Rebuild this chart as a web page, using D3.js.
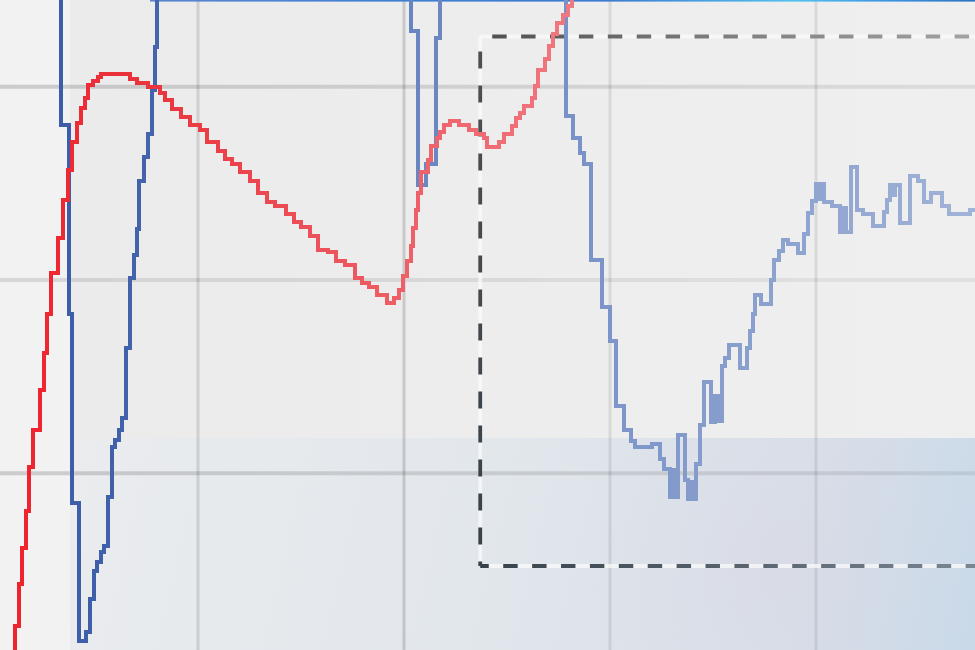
<!DOCTYPE html>
<html><head><meta charset="utf-8">
<script src="https://cdn.jsdelivr.net/npm/d3@7"></script>
<style>html,body{margin:0;padding:0;overflow:hidden;background:#ececec}svg{display:block}</style>
</head><body><svg id="c" width="975" height="650"></svg>
<script>
// ---- data (chart units) ----
const redX = [8.7,11.2,13.1,14.6,16.5,18.0,19.9,23.3,25.2,26.7,28.6,32.0,34.5,36.9,38.8,41.3,43.2,45.1,46.6,49.0,51.5,52.9,67.0,70.4,75.7,81.6,84.0,87.4,91.7,96.1,101.0,104.4,109.7,113.1,116.5,120.4,125.2,129.1,133.5,137.4,142.7,146.6,150.0,154.4,158.3,163.1,167.0,171.3,176.2,179.6,183.0,186.9,191.7,195.1,197.6,199.5,201.5,203.4,204.4,205.8,206.8,208.2,211.6,213.1,216.0,217.5,219.4,222.3,226.7,231.5,234.9,238.8,240.3,246.1,248.5,252.4,254.4,256.3,258.2,262.1,263.6,265.0,268.4,270.4,272.3,274.3,277.2,279.6,281.6];
const redY = [-0.8,21.0,42.7,61.3,80.5,103.2,122.4,143.1,162.2,182.4,203.6,221.7,241.4,256.9,271.4,281.2,289.0,294.2,300.9,303.0,305.1,306.6,304.0,302.0,299.9,296.8,293.2,288.5,284.4,280.2,277.6,271.4,266.8,262.6,260.0,255.9,251.2,245.0,240.4,238.3,234.2,230.0,227.4,222.8,215.5,214.5,209.8,207.8,201.0,198.5,196.4,192.2,188.1,190.7,194.8,202.1,209.8,217.6,226.9,236.2,245.0,255.9,262.1,269.4,273.5,276.6,280.2,282.3,280.2,277.6,275.6,273.5,268.8,271.4,275.6,279.7,283.8,286.4,290.0,294.2,300.4,308.7,314.4,321.1,327.3,333.0,337.1,341.8,348.0];
const blueX = [30.6,33.5,37.4,38.8,42.2,45.6,47.6,49.5,51.0,52.9,54.4,56.3,58.3,59.7,61.7,63.1,65.0,67.0,68.9,70.4,71.4,73.8,75.7,77.7,79.1,80.1,
  203.4,206.8,210.7,215.5,217.5,
  278.6,282.0,285.4,287.4,290.8,296.1,300.0,302.9,306.8,310.2,312.1,320.4,324.3,326.2,329.1,331.1,332.0,333.0,336.4,337.9,339.3,340.3,341.7,343.7,345.6,349.0,351.0,352.9,354.4,355.8,357.8,363.1,366.5,368.0,369.4,370.4,373.3,378.2,379.6,382.0,384.0,386.4,391.3,394.2,396.1,398.1,400.0,401.9,402.9,403.9,407.8,411.7,413.6,414.6,417.0,419.9,422.8,427.7,433.0,434.5,435.9,437.4,438.4,440.8,445.6,449.5,452.4,455.8,461.2,464.6,474.8,482.0];
const blueY = [348.0,280.2,182.4,84.6,13.2,17.9,34.9,49.4,54.1,59.2,62.4,87.7,113.6,117.2,122.4,128.6,164.8,201.0,212.9,226.4,251.2,263.6,275.6,298.3,320.6,348.0,
  328.8,249.2,260.0,325.2,348.0,
  284.9,273.5,265.7,260.0,210.4,186.0,168.4,134.8,122.4,116.7,113.6,115.1,107.4,102.2,87.7,101.7,87.7,119.8,96.5,86.7,95.5,86.7,104.8,125.0,147.2,126.5,140.0,127.0,155.5,159.6,166.4,154.5,164.8,173.6,182.4,192.2,187.6,200.0,210.4,215.0,220.7,218.6,214.0,223.8,234.7,240.9,249.7,241.9,249.7,240.4,238.3,224.8,237.3,224.8,258.5,236.2,234.2,227.9,235.2,241.4,249.2,244.0,249.2,229.5,253.8,251.2,240.4,245.0,238.3,234.2,236.2,236.2];
const xTicks = [100, 200, 300, 400];
const yTicks = [100, 200, 300];
const boxX = [237, 500];
const boxY = [52, 326];

// ---- layout ----
const W = 975, H = 650;
const x = d3.scaleLinear().domain([0, 400]).range([-8, 816]);
const y = d3.scaleLinear().domain([0, 300]).range([666.5, 86.75]);
const svg = d3.select('#c');
const defs = svg.append('defs');

function lg(id, stops, x1, y1, x2, y2) {
  const g = defs.append('linearGradient').attr('id', id).attr('gradientUnits', 'userSpaceOnUse')
    .attr('x1', x1).attr('y1', y1).attr('x2', x2).attr('y2', y2);
  stops.forEach(s => g.append('stop').attr('offset', s[0]).attr('stop-color', s[1]).attr('stop-opacity', s[2] == null ? 1 : s[2]));
}
lg('bgMain', [[0, '#ebebeb'], [1, '#efefef']], 0, 0, W, 0);
lg('band', [[0, '#eaecee'], [0.45, '#e2e7ec'], [0.8, '#d8dfe8'], [1, '#c9d9e9']], 70, 438, W, H);
lg('topStrip', [[0, '#5a86d0'], [0.3, '#3f7fd4'], [0.55, '#3a7ad0'], [0.78, '#52c2f0'], [0.9, '#3a92e0'], [1, '#2b72c4']], 150, 0, W, 0);
lg('redG', [[0, '#f0212c'], [0.15, '#e9343d'], [0.38, '#ee5a62'], [0.6, '#f07a82']], 0, 0, W, 0);
lg('blueG', [[0, '#3857a7'], [0.16, '#4464ad'], [0.43, '#6a86c0'], [0.62, '#7c94c8'], [0.8, '#8ca2cf'], [1, '#a2b3d8']], 0, 0, W, 0);
lg('boxTop', [[0, '#4e4e4e'], [0.45, '#7a7a7a'], [1, '#a2a2a2']], x(boxX[0]), 0, W, 0);
lg('boxBot', [[0, '#36414a'], [0.5, '#56616c'], [1, '#7a8692']], x(boxX[0]), 0, W, 0);
lg('boxLeft', [[0, '#4f4f4f'], [1, '#36414b']], 0, y(boxY[1]), 0, y(boxY[0]));
lg('hGrid', [[0, '#000', 0.16], [1, '#000', 0.08]], 0, 0, W, 0);

const rg = defs.append('radialGradient').attr('id', 'lav').attr('gradientUnits', 'userSpaceOnUse')
  .attr('cx', 780).attr('cy', 560).attr('r', 200);
rg.append('stop').attr('offset', 0).attr('stop-color', '#d8d2e2').attr('stop-opacity', 0.3);
rg.append('stop').attr('offset', 1).attr('stop-color', '#d8d2e2').attr('stop-opacity', 0);

// background
svg.append('rect').attr('width', W).attr('height', H).attr('fill', 'url(#bgMain)');
svg.append('rect').attr('x', 70).attr('y', 438).attr('width', W - 70).attr('height', H - 438).attr('fill', 'url(#band)');
svg.append('rect').attr('x', 70).attr('y', 438).attr('width', W - 70).attr('height', H - 438).attr('fill', 'url(#lav)');
svg.append('rect').attr('x', 0).attr('y', 0).attr('width', 70).attr('height', H).attr('fill', '#f2f2f2');

// grid
const vOp = [0.12, 0.15, 0.085, 0.085];
svg.append('g').selectAll('line').data(xTicks).join('line')
  .attr('x1', d => x(d)).attr('x2', d => x(d)).attr('y1', 0).attr('y2', H)
  .attr('stroke', '#000').attr('stroke-opacity', (d, i) => vOp[i]).attr('stroke-width', 3);
const hOp = [1.05, 0.7, 1];
svg.append('g').selectAll('line').data(yTicks).join('line')
  .attr('x1', 0).attr('x2', W).attr('y1', d => y(d)).attr('y2', d => y(d))
  .attr('stroke', 'url(#hGrid)').attr('opacity', (d, i) => hOp[i]).attr('stroke-width', 4);

// top strip
svg.append('rect').attr('x', 150).attr('y', 0).attr('width', W - 150).attr('height', 1.6).attr('fill', 'url(#topStrip)');

// dashed zoom box
const bx0 = x(boxX[0]), by0 = y(boxY[1]), by1 = y(boxY[0]);
const gBox = svg.append('g');
[[bx0, by0, W + 5, by0], [bx0, by1, W + 5, by1], [bx0, by0, bx0, by1]].forEach(l => {
  gBox.append('line').attr('x1', l[0]).attr('y1', l[1]).attr('x2', l[2]).attr('y2', l[3])
    .attr('stroke', '#fafafa').attr('stroke-opacity', 0.75).attr('stroke-width', 3.8);
});
gBox.append('line').attr('x1', bx0).attr('y1', by0).attr('x2', W + 5).attr('y2', by0)
  .attr('stroke', 'url(#boxTop)').attr('stroke-width', 3.8).attr('stroke-dasharray', '14.45 14.45').attr('stroke-dashoffset', 16.9);
gBox.append('line').attr('x1', bx0).attr('y1', by1).attr('x2', W + 5).attr('y2', by1)
  .attr('stroke', 'url(#boxBot)').attr('stroke-width', 3.8).attr('stroke-dasharray', '14.45 14.45').attr('stroke-dashoffset', 5.9);
gBox.append('line').attr('x1', bx0).attr('y1', by0).attr('x2', bx0).attr('y2', by1)
  .attr('stroke', 'url(#boxLeft)').attr('stroke-width', 3.8).attr('stroke-dasharray', '17 17').attr('stroke-dashoffset', 19);

// series
const line = d3.line().curve(d3.curveStepAfter).x(d => x(d[0])).y(d => y(d[1]));
const blue = blueX.map((v, i) => [v, blueY[i]]);
const red = redX.map((v, i) => [v, redY[i]]);
svg.append('path').attr('d', line(blue)).attr('fill', 'none').attr('stroke', 'url(#blueG)')
  .attr('stroke-width', 3.5).attr('stroke-linejoin', 'miter').attr('shape-rendering', 'crispEdges');
svg.append('path').attr('d', line(red)).attr('fill', 'none').attr('stroke', 'url(#redG)')
  .attr('stroke-width', 3.8).attr('stroke-linejoin', 'miter').attr('shape-rendering', 'crispEdges');
</script>
</body></html>
